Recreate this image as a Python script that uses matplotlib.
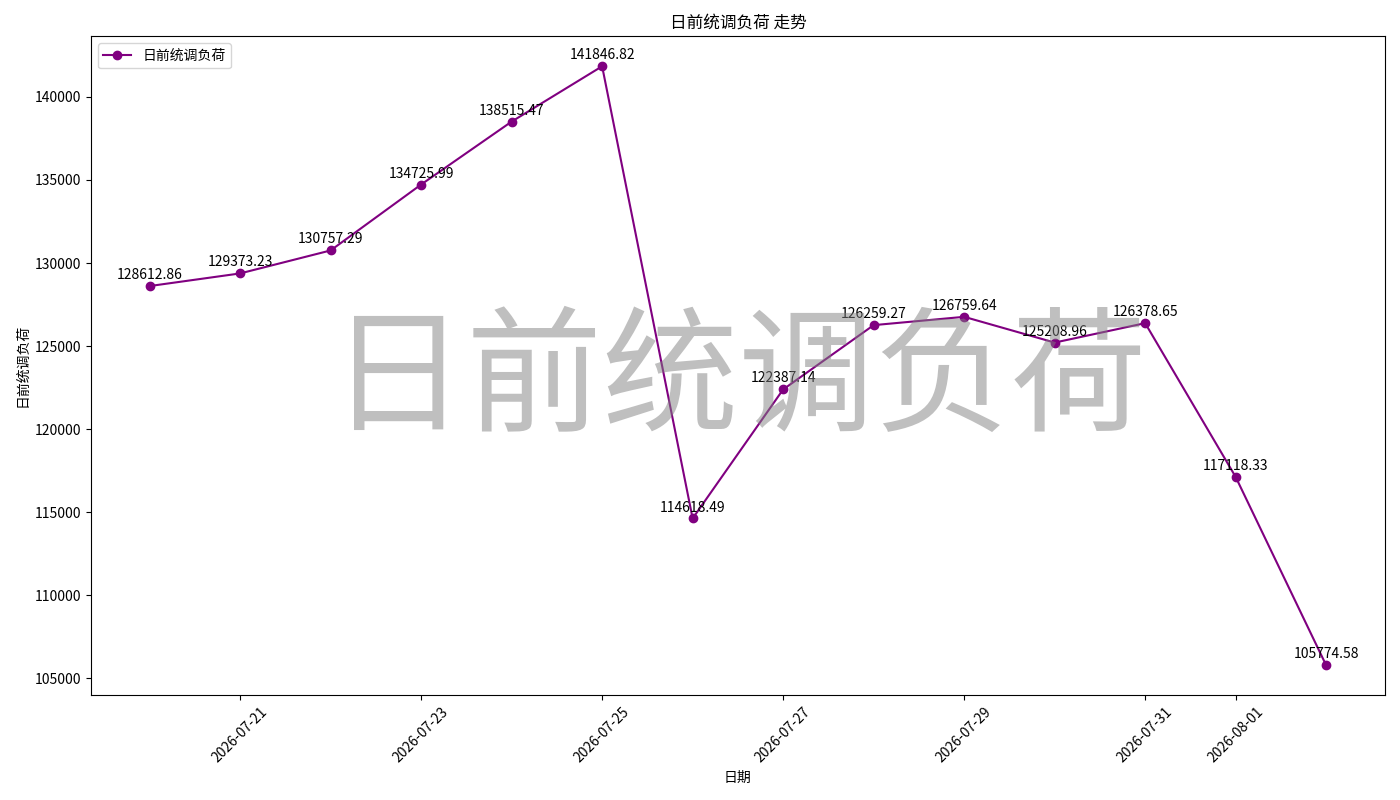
import pandas as pd
import matplotlib
matplotlib.use('Agg')
import matplotlib.pyplot as plt

plt.rcParams['font.family'] = ['Noto Sans CJK SC', 'DejaVu Sans']
plt.rcParams['axes.unicode_minus'] = False

# data
dates = pd.date_range('2026-07-20', '2026-08-02', freq='D')
values = [128612.86, 129373.23, 130757.29, 134725.99, 138515.47, 141846.82,
          114618.49, 122387.14, 126259.27, 126759.64, 125208.96, 126378.65,
          117118.33, 105774.58]
name = '日前统调负荷'

fig, ax = plt.subplots(figsize=(14, 8), dpi=100)
ax.plot(dates, values, marker='o', color='purple', label=name)

for d, v in zip(dates, values):
    ax.annotate(f'{v:.2f}', (d, v), textcoords='offset points', xytext=(0, 5),
                ha='center', fontsize=10)

# watermark
ax.text(0.5, 0.475, name, transform=ax.transAxes, fontsize=98, color='gray',
        alpha=0.5, ha='center', va='center')

ax.set_title(f'{name} 走势')
ax.set_xlabel('日期')
ax.set_ylabel(name)
ax.legend(loc='upper left')
plt.xticks(rotation=45)
plt.tight_layout()
plt.savefig('out.png')
